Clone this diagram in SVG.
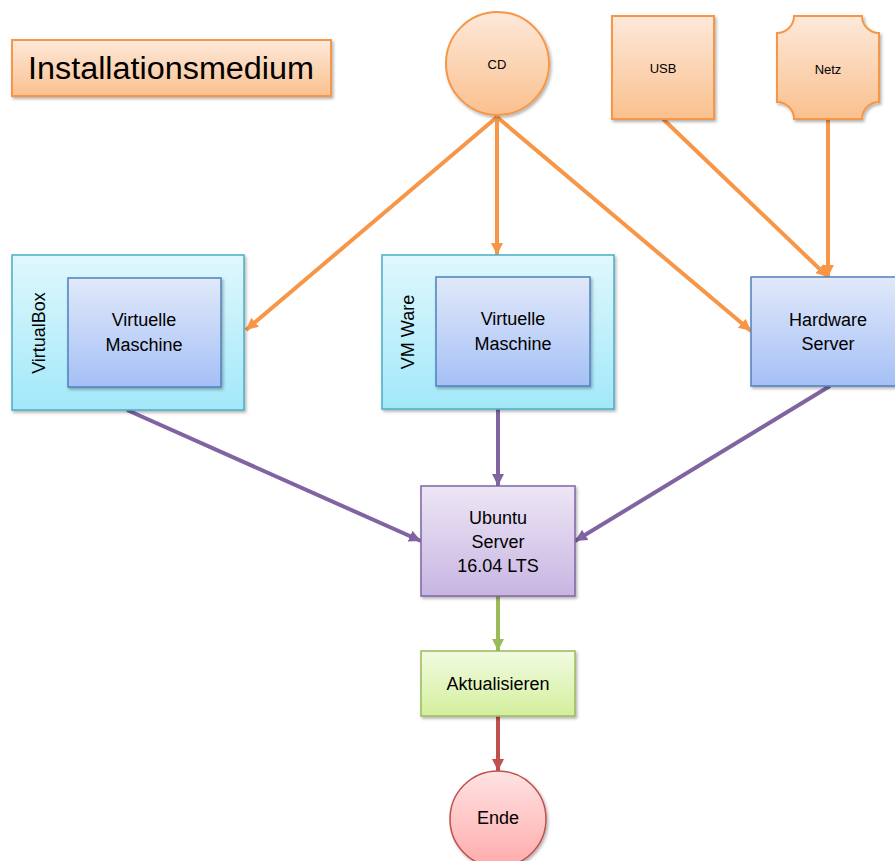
<svg xmlns="http://www.w3.org/2000/svg" width="895" height="861" viewBox="0 0 895 861">
<defs>
<linearGradient id="gO" x1="0" y1="0" x2="0" y2="1"><stop offset="0" stop-color="#FDE9DA"/><stop offset="1" stop-color="#FAC08F"/></linearGradient>
<linearGradient id="gB" x1="0" y1="0" x2="0" y2="1"><stop offset="0" stop-color="#E1E9FA"/><stop offset="1" stop-color="#A5C0F6"/></linearGradient>
<linearGradient id="gC" x1="0" y1="0" x2="0" y2="1"><stop offset="0" stop-color="#DFF8FD"/><stop offset="1" stop-color="#A2E8F9"/></linearGradient>
<linearGradient id="gP" x1="0" y1="0" x2="0" y2="1"><stop offset="0" stop-color="#EDE6F5"/><stop offset="1" stop-color="#C8B5E2"/></linearGradient>
<linearGradient id="gG" x1="0" y1="0" x2="0" y2="1"><stop offset="0" stop-color="#F2FBE2"/><stop offset="1" stop-color="#D3EF9C"/></linearGradient>
<linearGradient id="gR" x1="0" y1="0" x2="0" y2="1"><stop offset="0" stop-color="#FFE3E3"/><stop offset="1" stop-color="#FFABAB"/></linearGradient>
<filter id="sh" x="-10%" y="-10%" width="125%" height="125%"><feDropShadow dx="1.5" dy="2" stdDeviation="1.5" flood-color="#000" flood-opacity="0.3"/></filter>
<marker id="aO" markerUnits="userSpaceOnUse" markerWidth="14" markerHeight="14" refX="12" refY="7" orient="auto"><path d="M0,1 L12,7 L0,13 Z" fill="#F79646"/></marker>
<marker id="aP" markerUnits="userSpaceOnUse" markerWidth="14" markerHeight="14" refX="12" refY="7" orient="auto"><path d="M0,1 L12,7 L0,13 Z" fill="#8064A2"/></marker>
<marker id="aG" markerUnits="userSpaceOnUse" markerWidth="14" markerHeight="14" refX="12" refY="7" orient="auto"><path d="M0,1 L12,7 L0,13 Z" fill="#9BBB59"/></marker>
<marker id="aR" markerUnits="userSpaceOnUse" markerWidth="14" markerHeight="14" refX="12" refY="7" orient="auto"><path d="M0,1 L12,7 L0,13 Z" fill="#C0504D"/></marker>
</defs>
<style>
text{font-family:"Liberation Sans",Arial,sans-serif;fill:#000;text-anchor:middle;dominant-baseline:central}
.o{fill:url(#gO);stroke:#F79646;stroke-width:2}
.b{fill:url(#gB);stroke:#4F81BD;stroke-width:1.5}
.c{fill:url(#gC);stroke:#4BACC6;stroke-width:1.5}
.p{fill:url(#gP);stroke:#8064A2;stroke-width:1.5}
.g{fill:url(#gG);stroke:#9BBB59;stroke-width:1.5}
.r{fill:url(#gR);stroke:#C0504D;stroke-width:1.5}
.s{filter:url(#sh)}
.lo{stroke:#F79646;stroke-width:4;fill:none;marker-end:url(#aO)}
.lp{stroke:#8064A2;stroke-width:4;fill:none;marker-end:url(#aP)}
.lg{stroke:#9BBB59;stroke-width:4;fill:none;marker-end:url(#aG)}
.lr{stroke:#C0504D;stroke-width:4;fill:none;marker-end:url(#aR)}
.t{font-size:18px}
.sm{font-size:13px}
</style>
<g id="connectors">
<line class="lo" x1="497" y1="117" x2="246" y2="330"/>
<line class="lo" x1="497" y1="117" x2="497" y2="255"/>
<line class="lo" x1="497" y1="117" x2="751" y2="331"/>
<line class="lo" x1="663" y1="119" x2="828" y2="277"/>
<line class="lo" x1="828" y1="119" x2="828" y2="277"/>
<line class="lp" x1="127" y1="410" x2="421" y2="541"/>
<line class="lp" x1="498" y1="409" x2="498" y2="486"/>
<line class="lp" x1="830" y1="386" x2="575" y2="541"/>
<line class="lg" x1="498" y1="596" x2="498" y2="651"/>
<line class="lr" x1="498" y1="716" x2="498" y2="771"/>
</g>
<g id="installationsmedium">
<rect class="o s" x="12" y="40" width="319" height="56"/>
<text x="171" y="68" style="font-size:31px" textLength="286" lengthAdjust="spacingAndGlyphs">Installationsmedium</text>
</g>
<g id="cd">
<circle class="o s" cx="497.5" cy="63.5" r="51.5"/>
<text class="sm" x="497" y="64">CD</text>
</g>
<g id="usb">
<rect class="o s" x="612" y="16" width="102" height="103"/>
<text class="sm" x="663" y="68">USB</text>
</g>
<g id="netz">
<path class="o s" d="M794,16 L862,16 A17,17 0 0 0 879,33 L879,102 A17,17 0 0 0 862,119 L794,119 A17,17 0 0 0 777,102 L777,33 A17,17 0 0 0 794,16 Z"/>
<text class="sm" x="828" y="69">Netz</text>
</g>
<g id="virtualbox">
<rect class="c s" x="12" y="255" width="232" height="155"/>
<text class="t" x="39" y="333" transform="rotate(-90 39 333)">VirtualBox</text>
<rect class="b s" x="68" y="278" width="153" height="109"/>
<text class="t" x="144" y="320">Virtuelle</text>
<text class="t" x="144" y="345">Maschine</text>
</g>
<g id="vmware">
<rect class="c s" x="382" y="255" width="232" height="154"/>
<text class="t" x="408" y="332" transform="rotate(-90 408 332)">VM Ware</text>
<rect class="b s" x="436" y="277" width="154" height="109"/>
<text class="t" x="513" y="319">Virtuelle</text>
<text class="t" x="513" y="344">Maschine</text>
</g>
<g id="hardware">
<rect class="b s" x="751" y="277" width="150" height="109"/>
<text class="t" x="828" y="320">Hardware</text>
<text class="t" x="828" y="344">Server</text>
</g>
<g id="ubuntu">
<rect class="p s" x="421" y="486" width="154" height="110"/>
<text class="t" x="498" y="518">Ubuntu</text>
<text class="t" x="498" y="542">Server</text>
<text class="t" x="498" y="566">16.04 LTS</text>
</g>
<g id="aktualisieren">
<rect class="g s" x="421" y="651" width="154" height="65"/>
<text class="t" x="498" y="684">Aktualisieren</text>
</g>
<g id="ende">
<circle class="r s" cx="498" cy="819" r="48"/>
<text class="t" x="498" y="818">Ende</text>
</g>
</svg>
